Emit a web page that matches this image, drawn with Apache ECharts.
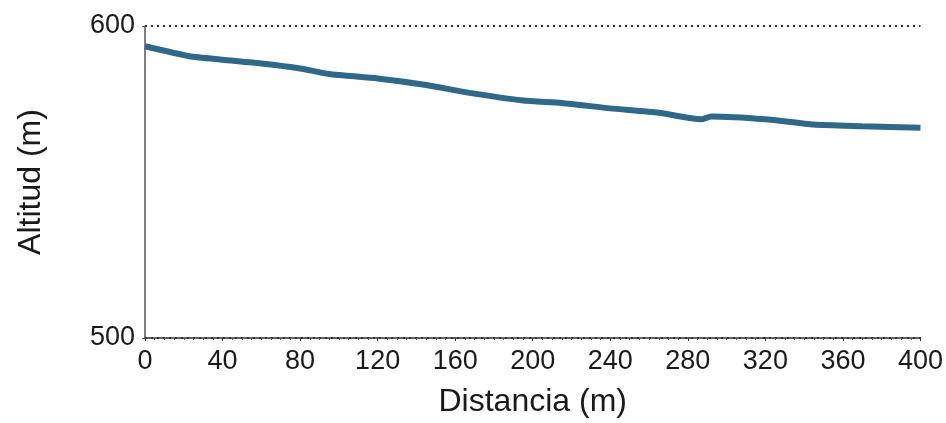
<!DOCTYPE html>
<html>
<head>
<meta charset="utf-8">
<script src="https://cdn.jsdelivr.net/npm/echarts@6/dist/echarts.min.js"></script>
<style>html,body{margin:0;padding:0;background:#fff;}#c{width:946px;height:423px;}</style>
</head>
<body>
<div id="c"></div>
<script>
const distance = [0, 23, 40, 60, 80, 95, 120, 145, 165, 195, 215, 240, 265, 287, 292, 320, 345, 370, 400];
const altitude = [593.5, 590.3, 589.2, 588.0, 586.4, 584.6, 583.2, 581.1, 578.8, 576.1, 575.3, 573.6, 572.2, 570.1, 571.0, 570.1, 568.4, 567.9, 567.4];
const xTicks = { min: 0, max: 400, interval: 40 };
const yTicks = { min: 500, max: 600, interval: 100 };

const chart = echarts.init(document.getElementById('c'));
const font = 'Liberation Sans, Arial, sans-serif';
chart.setOption({
  animation: false,
  backgroundColor: '#fff',
  grid: { left: 145, right: 24, top: 26, bottom: 81 },
  xAxis: {
    type: 'value', min: xTicks.min, max: xTicks.max, interval: xTicks.interval,
    name: 'Distancia (m)', nameLocation: 'middle', nameGap: 48,
    nameTextStyle: { fontSize: 32, color: '#1a1a1a', fontFamily: font },
    axisLine: { show: true, lineStyle: { color: '#333', width: 1.5 } },
    axisTick: { show: true, length: 3, inside: false, lineStyle: { color: '#333' } },
    axisLabel: { fontSize: 27, color: '#1a1a1a', fontFamily: font, margin: 10 },
    minorTick: { show: true, splitNumber: 8, length: 2, lineStyle: { color: '#555' } },
    splitLine: { show: false }
  },
  yAxis: {
    type: 'value', min: yTicks.min, max: yTicks.max, interval: yTicks.interval,
    name: 'Altitud (m)', nameLocation: 'middle', nameGap: 98,
    nameTextStyle: { fontSize: 32, color: '#1a1a1a', fontFamily: font },
    axisLine: { show: true, lineStyle: { color: '#555', width: 1.5 } },
    axisTick: { show: true, length: 3, lineStyle: { color: '#555' } },
    axisLabel: { fontSize: 27, color: '#1a1a1a', fontFamily: font, margin: 10 },
    splitLine: { show: true, lineStyle: { color: '#333', width: 2, type: [2, 4] } }
  },
  series: [{
    type: 'line',
    data: distance.map((d, i) => [d, altitude[i]]),
    showSymbol: false,
    smooth: 0.2,
    lineStyle: { color: '#2f6888', width: 6 },
    itemStyle: { color: '#2f6888' }
  }]
});
</script>
</body>
</html>
